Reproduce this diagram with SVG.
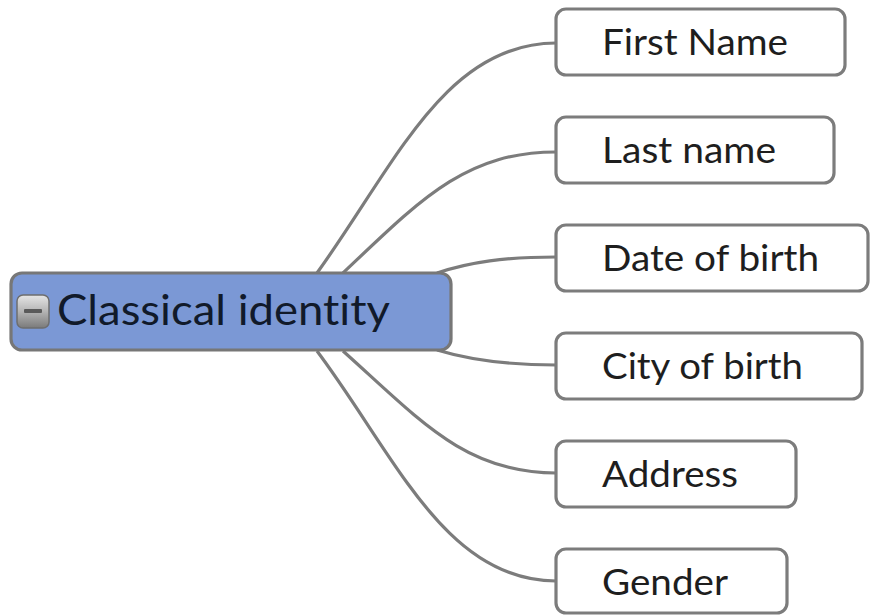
<svg xmlns="http://www.w3.org/2000/svg" width="870" height="615" viewBox="0 0 870 615">
  <defs>
    <linearGradient id="btn" x1="0" y1="0" x2="0" y2="1">
      <stop offset="0" stop-color="#e6e6e6"/>
      <stop offset="0.5" stop-color="#b4b4b4"/>
      <stop offset="1" stop-color="#7a7a7a"/>
    </linearGradient>
  </defs>
  <style>
    .conn { fill: none; stroke: #7c7c7c; stroke-width: 3.2; }
    .box { fill: #ffffff; stroke: #7c7c7c; stroke-width: 3.2; }
    .root { fill: #7b98d5; stroke: #777777; stroke-width: 3.2; }
    .lbl { font-family: Lato, "Liberation Sans", sans-serif; font-size: 37px; fill: #1e1e1e; font-variant-ligatures: none; font-feature-settings: "liga" 0, "clig" 0, "dlig" 0; }
    .rlbl { font-family: Lato, "Liberation Sans", sans-serif; font-size: 42px; fill: #111a2a; font-variant-ligatures: none; font-feature-settings: "liga" 0, "clig" 0, "dlig" 0; }
  </style>
  <g id="connectors">
    <path class="conn" d="M317,273 C395,165 445,43 556,43"/>
    <path class="conn" d="M343,273 C420,200 465,152 556,152"/>
    <path class="conn" d="M437,273 C470,262 505,257 556,257"/>
    <path class="conn" d="M437,350 C470,360 505,365 556,365"/>
    <path class="conn" d="M343,351 C420,420 465,473 556,473"/>
    <path class="conn" d="M317,351 C395,455 445,581 556,581"/>
  </g>
  <g id="root">
    <rect class="root" x="11" y="273" width="440" height="77" rx="11"/>
    <rect x="17" y="295" width="32" height="33" rx="6" fill="url(#btn)" stroke="#6e6e6e" stroke-width="1.5"/>
    <rect x="24" y="309" width="18" height="4" rx="1" fill="#5a5a5a"/>
    <text class="rlbl" x="57" y="325" textLength="333" lengthAdjust="spacingAndGlyphs">Classical identity</text>
  </g>
  <g id="n1">
    <rect class="box" x="556" y="9" width="289" height="66" rx="10"/>
    <text class="lbl" x="602" y="55" textLength="186" lengthAdjust="spacingAndGlyphs">First Name</text>
  </g>
  <g id="n2">
    <rect class="box" x="556" y="117" width="278" height="66" rx="10"/>
    <text class="lbl" x="602" y="163" textLength="174" lengthAdjust="spacingAndGlyphs">Last name</text>
  </g>
  <g id="n3">
    <rect class="box" x="556" y="225" width="312" height="66" rx="10"/>
    <text class="lbl" x="602" y="271" textLength="217" lengthAdjust="spacingAndGlyphs">Date of birth</text>
  </g>
  <g id="n4">
    <rect class="box" x="556" y="333" width="306" height="66" rx="10"/>
    <text class="lbl" x="602" y="379" textLength="201" lengthAdjust="spacingAndGlyphs">City of birth</text>
  </g>
  <g id="n5">
    <rect class="box" x="556" y="441" width="240" height="66" rx="10"/>
    <text class="lbl" x="602" y="487" textLength="136" lengthAdjust="spacingAndGlyphs">Address</text>
  </g>
  <g id="n6">
    <rect class="box" x="556" y="549" width="231" height="64" rx="10"/>
    <text class="lbl" x="602" y="595" textLength="126" lengthAdjust="spacingAndGlyphs">Gender</text>
  </g>
</svg>
